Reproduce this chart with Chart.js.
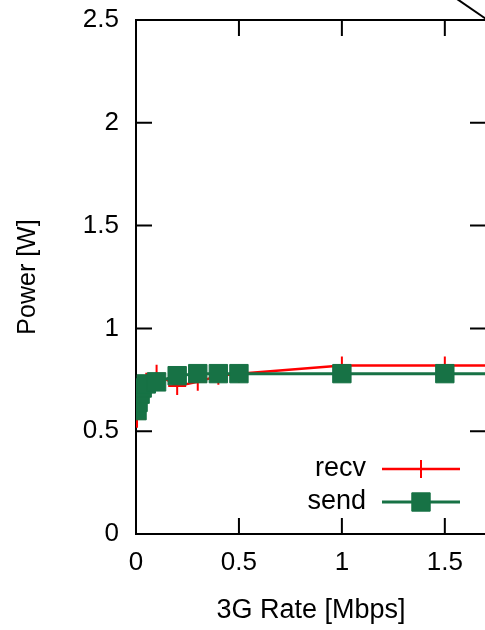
<!DOCTYPE html>
<html>
<head>
<meta charset="utf-8">
<script src="https://cdn.jsdelivr.net/npm/chart.js@4/dist/chart.umd.min.js"></script>
<style>
  html, body { margin: 0; padding: 0; overflow: hidden; background: #fff; }
  #wrap { width: 500px; height: 630px; }
</style>
</head>
<body>
<div id="wrap"><canvas id="canvas" width="500" height="630"></canvas></div>
<script>
// values
var rateMbps = [0.005, 0.01, 0.02, 0.03, 0.05, 0.1, 0.2, 0.3, 0.4, 0.5, 1, 1.5, 2];
var recvPower = [0.56, 0.62, 0.66, 0.70, 0.74, 0.78, 0.72, 0.74, 0.77, 0.78, 0.82, 0.82, 0.82];
var sendPower = [0.60, 0.64, 0.68, 0.71, 0.73, 0.74, 0.77, 0.78, 0.78, 0.78, 0.78, 0.78, 0.78];
var xTicks = [0, 0.5, 1, 1.5];
var yTicks = [0, 0.5, 1, 1.5, 2, 2.5];

var RED = '#ff0000';
var GREEN = '#177245';
var FONT = 'Liberation Sans, Arial, sans-serif';

function pts(ys) {
  return rateMbps.map(function (x, i) { return { x: x, y: ys[i] }; });
}

function plain(v) { return String(v); }

// gnuplot style frame: box, inward ticks on all four sides
var framePlugin = {
  id: 'frame',
  beforeDatasetsDraw: function (chart) {
    var ctx = chart.ctx, a = chart.chartArea;
    var xs = chart.scales.x, ys = chart.scales.y;
    var tl = 16;
    ctx.save();
    ctx.strokeStyle = '#000';
    ctx.lineWidth = 2;
    ctx.strokeRect(a.left, a.top, a.right - a.left, a.bottom - a.top);
    ctx.beginPath();
    xTicks.forEach(function (v) {
      var px = xs.getPixelForValue(v);
      ctx.moveTo(px, a.bottom); ctx.lineTo(px, a.bottom - tl);
      ctx.moveTo(px, a.top); ctx.lineTo(px, a.top + tl);
    });
    yTicks.forEach(function (v) {
      var py = ys.getPixelForValue(v);
      ctx.moveTo(a.left, py); ctx.lineTo(a.left + tl, py);
      ctx.moveTo(a.right, py); ctx.lineTo(a.right - tl, py);
    });
    ctx.stroke();
    ctx.restore();
  },
  afterDraw: function (chart) {
    var ctx = chart.ctx;
    ctx.save();
    // stray diagonal stroke at the top right corner
    ctx.strokeStyle = '#000';
    ctx.lineWidth = 2;
    ctx.beginPath();
    ctx.moveTo(457, -1);
    ctx.lineTo(489, 21);
    ctx.stroke();

    // key, bottom right inside the plot
    var rows = [
      { label: 'recv', ds: chart.data.datasets[1], y: 469 },
      { label: 'send', ds: chart.data.datasets[0], y: 502 }
    ];
    ctx.font = '27px ' + FONT;
    ctx.textAlign = 'right';
    ctx.textBaseline = 'middle';
    rows.forEach(function (r) {
      ctx.fillStyle = '#000';
      ctx.fillText(r.label, 366, r.y);
      ctx.strokeStyle = r.ds.borderColor;
      ctx.lineWidth = r.ds.borderWidth;
      ctx.beginPath();
      ctx.moveTo(382, r.y); ctx.lineTo(460, r.y);
      ctx.stroke();
      ctx.fillStyle = r.ds.pointBackgroundColor;
      ctx.strokeStyle = r.ds.pointBorderColor;
      ctx.lineWidth = r.ds.pointBorderWidth || 1;
      Chart.helpers.drawPoint(ctx, {
        pointStyle: r.ds.pointStyle,
        radius: r.ds.pointRadius,
        borderWidth: r.ds.pointBorderWidth || 1
      }, 421, r.y);
    });
    ctx.restore();
  }
};

var ctx = document.getElementById('canvas').getContext('2d');
window.myChart = new Chart(ctx, {
  type: 'line',
  data: {
    datasets: [{
      label: 'send',
      data: pts(sendPower),
      order: 1,
      borderColor: GREEN,
      borderWidth: 3,
      pointStyle: 'rect',
      pointRadius: 13,
      pointBackgroundColor: GREEN,
      pointBorderColor: GREEN,
      pointBorderWidth: 1,
      tension: 0
    }, {
      label: 'recv',
      data: pts(recvPower),
      order: 2,
      borderColor: RED,
      borderWidth: 2.5,
      pointStyle: 'cross',
      pointRadius: 9,
      pointBackgroundColor: RED,
      pointBorderColor: RED,
      pointBorderWidth: 2,
      tension: 0
    }]
  },
  options: {
    responsive: false,
    animation: false,
    events: [],
    layout: { padding: { top: 20, right: 10, left: 0, bottom: 0 } },
    plugins: {
      legend: { display: false },
      tooltip: { enabled: false }
    },
    scales: {
      x: {
        type: 'linear',
        min: 0,
        max: 1.7,
        afterFit: function (s) { s.height = 96; s.paddingLeft = 0; s.paddingRight = 0; },
        afterBuildTicks: function (s) { s.ticks = xTicks.map(function (v) { return { value: v }; }); },
        grid: { display: false, drawTicks: false },
        border: { display: false },
        ticks: { color: '#000', font: { family: FONT, size: 26 }, padding: 13, maxRotation: 0, callback: plain },
        title: { display: true, text: '3G Rate [Mbps]', color: '#000', font: { family: FONT, size: 27 }, padding: { top: 0, bottom: 3 } }
      },
      y: {
        min: 0,
        max: 2.5,
        afterFit: function (s) { s.width = 136; s.paddingTop = 0; s.paddingBottom = 0; },
        afterBuildTicks: function (s) { s.ticks = yTicks.map(function (v) { return { value: v }; }); },
        grid: { display: false, drawTicks: false },
        border: { display: false },
        ticks: { color: '#000', font: { family: FONT, size: 26 }, padding: 17, callback: plain },
        title: { display: true, text: 'Power [W]', color: '#000', font: { family: FONT, size: 25 }, padding: { top: 13, bottom: 0 } }
      }
    }
  },
  plugins: [framePlugin]
});
</script>
</body>
</html>
